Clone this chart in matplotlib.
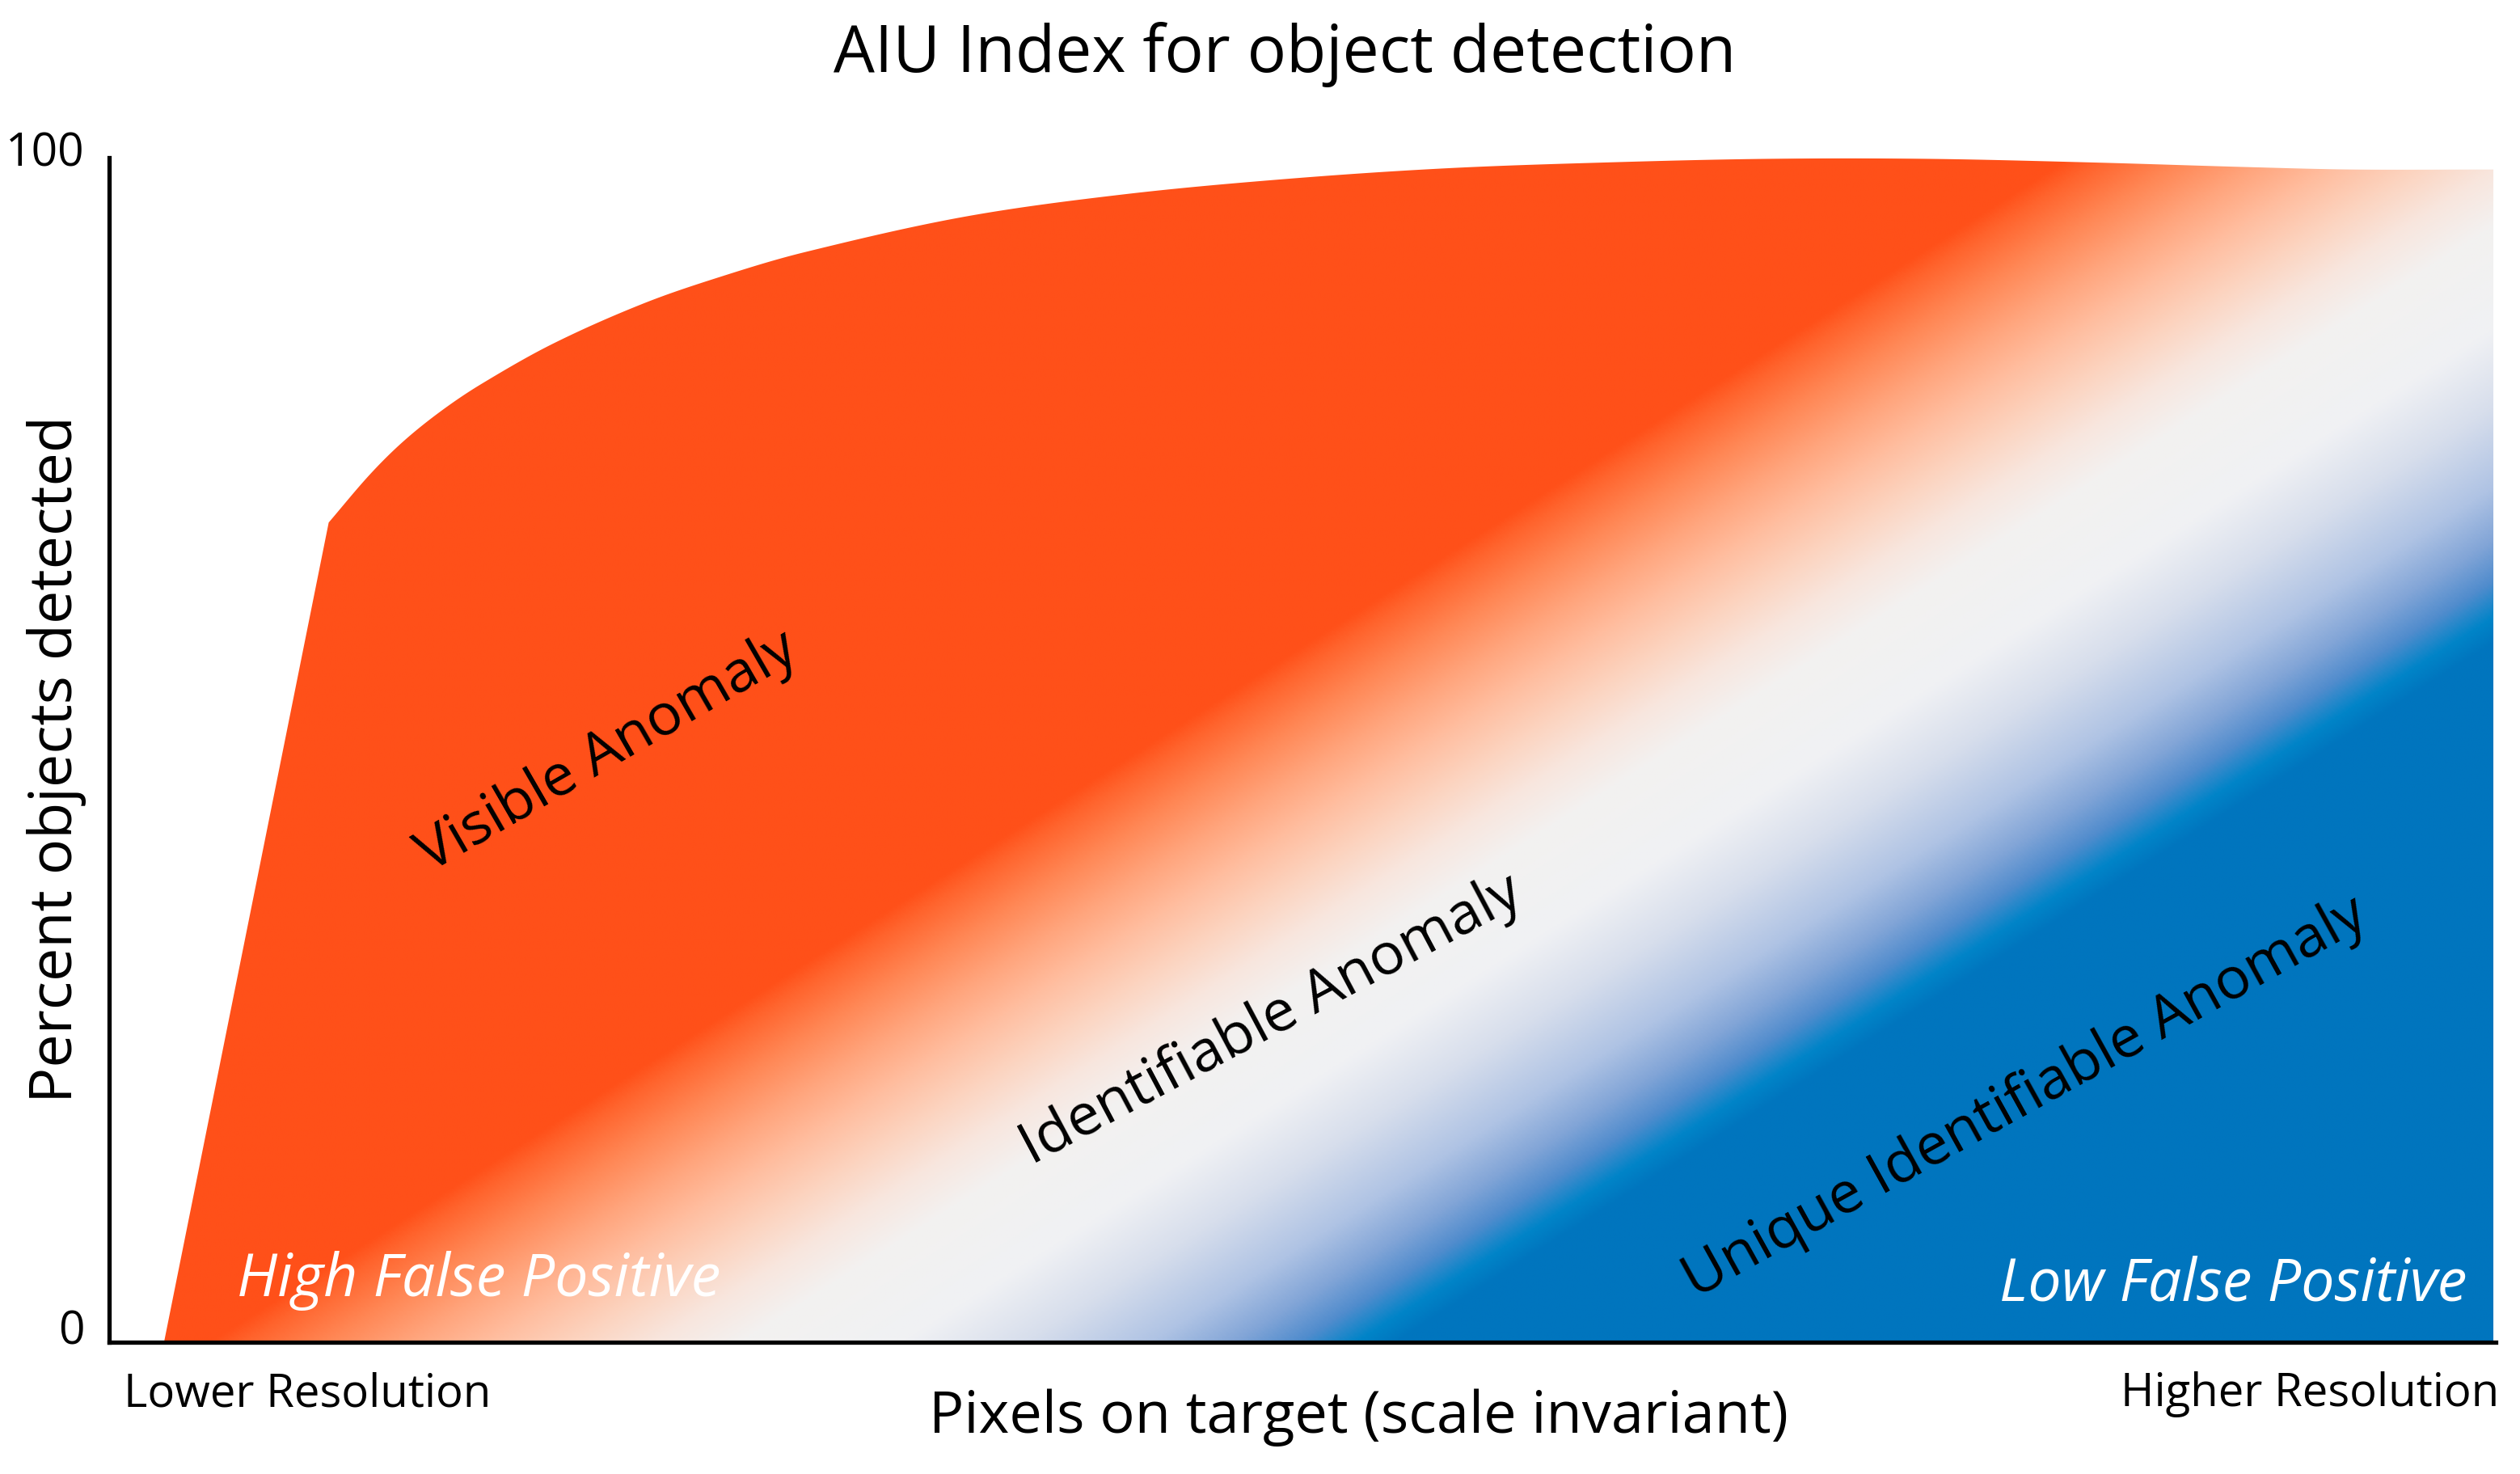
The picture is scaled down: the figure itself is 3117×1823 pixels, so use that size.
import matplotlib
matplotlib.use("Agg")
import matplotlib.pyplot as plt
import numpy as np
from matplotlib.colors import LinearSegmentedColormap
from matplotlib.patches import Polygon

# detection curve (x: position along axis 0-100, y: percent)
resolution = [2.3, 9.2, 10.9, 12.3, 13.9, 15.6, 18.6, 22.4, 25.7, 29.1,
              35.8, 42.5, 49.3, 56.0, 62.8, 69.5, 76.2, 83.0, 89.7, 94.0, 99.9]
detected = [0, 69.2, 73.2, 76.0, 78.6, 80.9, 84.3, 87.7, 90.0, 92.0,
            95.0, 96.9, 98.2, 99.1, 99.6, 99.9, 99.9, 99.6, 99.2, 99.0, 99.0]

title = "AIU Index for object detection"
xlabel = "Pixels on target (scale invariant)"
ylabel = "Percent objects detected"
x_ends = ["Lower Resolution", "Higher Resolution"]
y_ends = ["0", "100"]
zones = ["Visible Anomaly", "Identifiable Anomaly", "Unique Identifiable Anomaly"]
corners = ["High False Positive", "Low False Positive"]


def smooth_curve(xs, ys, steps=30):
    # straight first segment, cubic hermite through the rest
    xs = np.asarray(xs, float)
    ys = np.asarray(ys, float)
    n = len(xs)
    m = np.zeros(n)
    m[1] = (ys[2] - ys[1]) / (xs[2] - xs[1])
    for i in range(2, n - 1):
        m[i] = (ys[i + 1] - ys[i - 1]) / (xs[i + 1] - xs[i - 1])
    m[-1] = (ys[-1] - ys[-2]) / (xs[-1] - xs[-2])
    px, py = [xs[0]], [ys[0]]
    for i in range(1, n - 1):
        h = xs[i + 1] - xs[i]
        t = np.linspace(0, 1, steps)
        h00 = 2 * t**3 - 3 * t**2 + 1
        h10 = t**3 - 2 * t**2 + t
        h01 = -2 * t**3 + 3 * t**2
        h11 = t**3 - t**2
        px.extend(xs[i] + t * h)
        py.extend(h00 * ys[i] + h10 * h * m[i] + h01 * ys[i + 1] + h11 * h * m[i + 1])
    return np.array(px), np.array(py)


plt.rcParams['font.family'] = ['Open Sans', 'DejaVu Sans']

W, H = 3117, 1823
fig = plt.figure(figsize=(W / 100, H / 100), dpi=100)
ax = fig.add_axes([135 / W, (H - 1660) / H, 2952 / W, 1465 / H])
ax.set_xlim(0, 100)
ax.set_ylim(0, 100)

# diagonal gradient: u = where the band line meets the x axis
angle = np.radians(32.5)
px_x = 2952 / 100
px_y = 1465 / 100
xx, yy = np.meshgrid(np.linspace(0, 100, 1600), np.linspace(0, 100, 800))
u = xx - yy * (px_y / px_x) / np.tan(angle)

stops = [
    (-60, (255, 80, 25)), (4.2, (255, 80, 25)), (5.7, (255, 100, 45)),
    (9.1, (255, 135, 85)), (12.6, (255, 165, 125)), (16.0, (255, 190, 160)),
    (19.5, (252, 212, 192)), (22.9, (248, 230, 222)), (26.4, (243, 241, 240)),
    (33.3, (240, 241, 244)), (38.4, (215, 222, 236)), (43.7, (175, 195, 228)),
    (47.2, (130, 165, 215)), (49.9, (80, 140, 205)), (52.3, (0, 132, 200)),
    (54.0, (0, 117, 190)), (110, (0, 117, 190)),
]
lo, hi = stops[0][0], stops[-1][0]
cmap = LinearSegmentedColormap.from_list(
    "aiu", [((p - lo) / (hi - lo), tuple(c / 255 for c in rgb)) for p, rgb in stops], N=1024)

img = ax.imshow(u, extent=[0, 100, 0, 100], origin="lower", cmap=cmap,
                vmin=lo, vmax=hi, aspect="auto", interpolation="bilinear", zorder=1)

cx, cy = smooth_curve(resolution, detected)
verts = list(zip(cx, cy)) + [(resolution[-1], 0)]
area = Polygon(verts, closed=True, facecolor="none", edgecolor="none")
ax.add_patch(area)
img.set_clip_path(area)

for s in ["top", "right"]:
    ax.spines[s].set_visible(False)
for s in ["left", "bottom"]:
    ax.spines[s].set_linewidth(3.8)
    ax.spines[s].set_zorder(5)
ax.set_xticks([])
ax.set_yticks([])

fig.text(0.510, 0.963, title, ha="center", va="center", fontsize=58)
fig.text(0.539, 0.038, xlabel, ha="center", va="center", fontsize=52)
fig.text(0.0225, 0.485, ylabel, ha="center", va="center", fontsize=53, rotation=90)
fig.text(0.122, 0.054, x_ends[0], ha="center", va="center", fontsize=40.5)
fig.text(0.9166, 0.054, x_ends[1], ha="center", va="center", fontsize=40.5)
fig.text(105 / W, 0.096, y_ends[0], ha="right", va="center", fontsize=41)
fig.text(105 / W, 0.895, y_ends[1], ha="right", va="center", fontsize=41)

ax.text(20.9, 49.8, zones[0], rotation=30, rotation_mode="anchor",
        ha="center", va="center", fontsize=52, zorder=6)
ax.text(48.7, 27.2, zones[1], rotation=28, rotation_mode="anchor",
        ha="center", va="center", fontsize=52, zorder=6)
ax.text(80.3, 20.6, zones[2], rotation=29, rotation_mode="anchor",
        ha="center", va="center", fontsize=52, zorder=6)
ax.text(15.5, 5.2, corners[0], ha="center", va="center", fontsize=53,
        style="italic", color="white", zorder=6)
ax.text(89.0, 4.8, corners[1], ha="center", va="center", fontsize=53,
        style="italic", color="white", zorder=6)

fig.savefig("out.png", dpi=100)
